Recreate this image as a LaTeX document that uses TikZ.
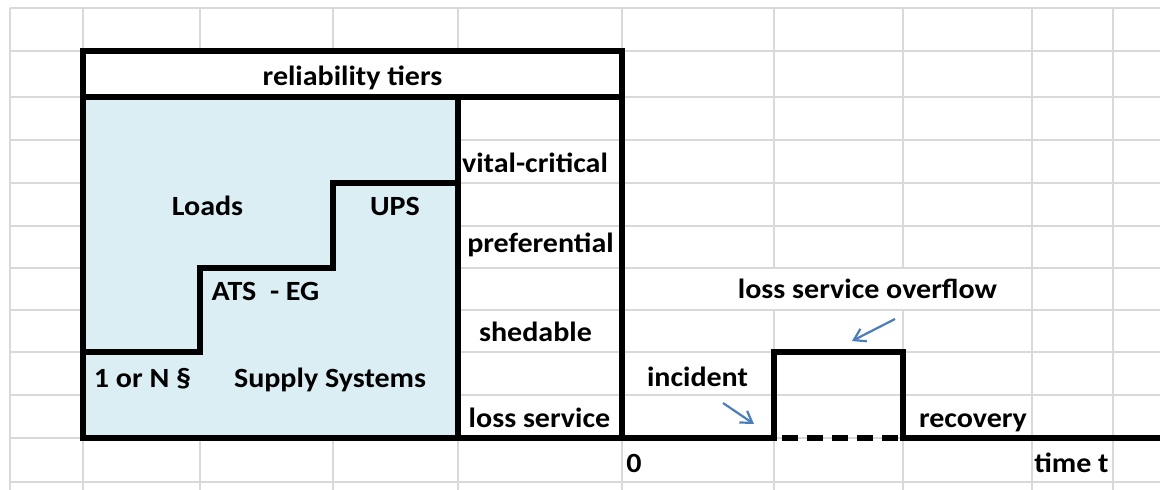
\documentclass[tikz,border=0pt]{standalone}
\usepackage{fontspec}
\setmainfont{Carlito}[FakeStretch=1.08]
\usetikzlibrary{arrows.meta}
\definecolor{gridgray}{HTML}{D9D9D9}
\definecolor{cellblue}{HTML}{DAEEF3}
\definecolor{arrowblue}{HTML}{4A7EBB}
\begin{document}
\begin{tikzpicture}[x=1pt,y=-1pt,
  lbl/.style={font=\fontsize{27.8}{32}\selectfont\bfseries, inner sep=0pt, anchor=base},
  thickline/.style={line width=5.5pt, line join=miter},
  gridline/.style={gridgray, line width=2pt},
  bluearrow/.style={arrowblue, line width=2.2pt, -{Straight Barb[length=11pt,width=14pt]}}]
\useasboundingbox (0,0) rectangle (1160,490);
\fill[white] (0,0) rectangle (1160,490);
% grid
\foreach \y in {8,51,97,140,183,226,268,310,352,395,438,482}
  \draw[gridline] (10,\y) -- (1160,\y);
\foreach \x in {10,83,200,333,458,622,1032,1113}
  \draw[gridline] (\x,8) -- (\x,490);
\foreach \x in {774,903} {
  \draw[gridline] (\x,8) -- (\x,268);
  \draw[gridline] (\x,310) -- (\x,490);
}
% table cells
\fill[white] (83,51) rectangle (622,438);
\fill[cellblue] (83,97) rectangle (458,438);
\foreach \y in {140,183,226,268,310,352,395}
  \draw[gridline] (458,\y) -- (622,\y);
% frame
\draw[thickline] (83,51) rectangle (622,438);
\draw[thickline] (83,97) -- (622,97);
\draw[thickline] (458,97) -- (458,438);
\draw[thickline] (83,352) -| (200,268) -| (333,183) -- (458,183);
% time line with pulse
\coordinate (t0) at (622,438);
\coordinate (p1) at (774,438);
\coordinate (p2) at (774,352);
\coordinate (p3) at (903,352);
\coordinate (p4) at (903,438);
\coordinate (tend) at (1160,438);
\draw[thickline] (t0) -- (p1) -- (p2) -- (p3) -- (p4) -- (tend);
\draw[thickline, dash pattern=on 16pt off 9pt, dash phase=-8pt] (p1) -- (p4);
% arrows
\coordinate (incA) at (723,403);
\coordinate (incB) at (754,424);
\coordinate (ovA) at (895,319);
\coordinate (ovB) at (852,341);
\draw[bluearrow] (incA) -- (incB);
\draw[bluearrow] (ovA) -- (ovB);
% labels
\node[lbl] (tiers) at (352.5,85) {reliability tiers};
\node[lbl] (loads) at (207.5,215) {Loads};
\node[lbl] (ups) at (395,215) {UPS};
\node[lbl] (vital) at (535,172) {vital-critical};
\node[lbl] (pref) at (540.5,252) {preferential};
\node[lbl] (ats) at (265.5,300) {ATS\ \ - EG};
\node[lbl] (shed) at (535.5,341) {shedable};
\node[lbl] (overflow) at (867.5,298) {loss service overflow};
\node[lbl] (onen) at (142.5,387) {1 or N \S};
\node[lbl] (supply) at (330,387) {Supply Systems};
\node[lbl] (incident) at (697.5,386) {incident};
\node[lbl] (loss) at (539.5,427) {loss service};
\node[lbl] (recovery) at (973,427) {recovery};
\node[lbl] (zero) at (634,472) {0};
\node[lbl] (time) at (1071.5,472) {time t};
\end{tikzpicture}
\end{document}
